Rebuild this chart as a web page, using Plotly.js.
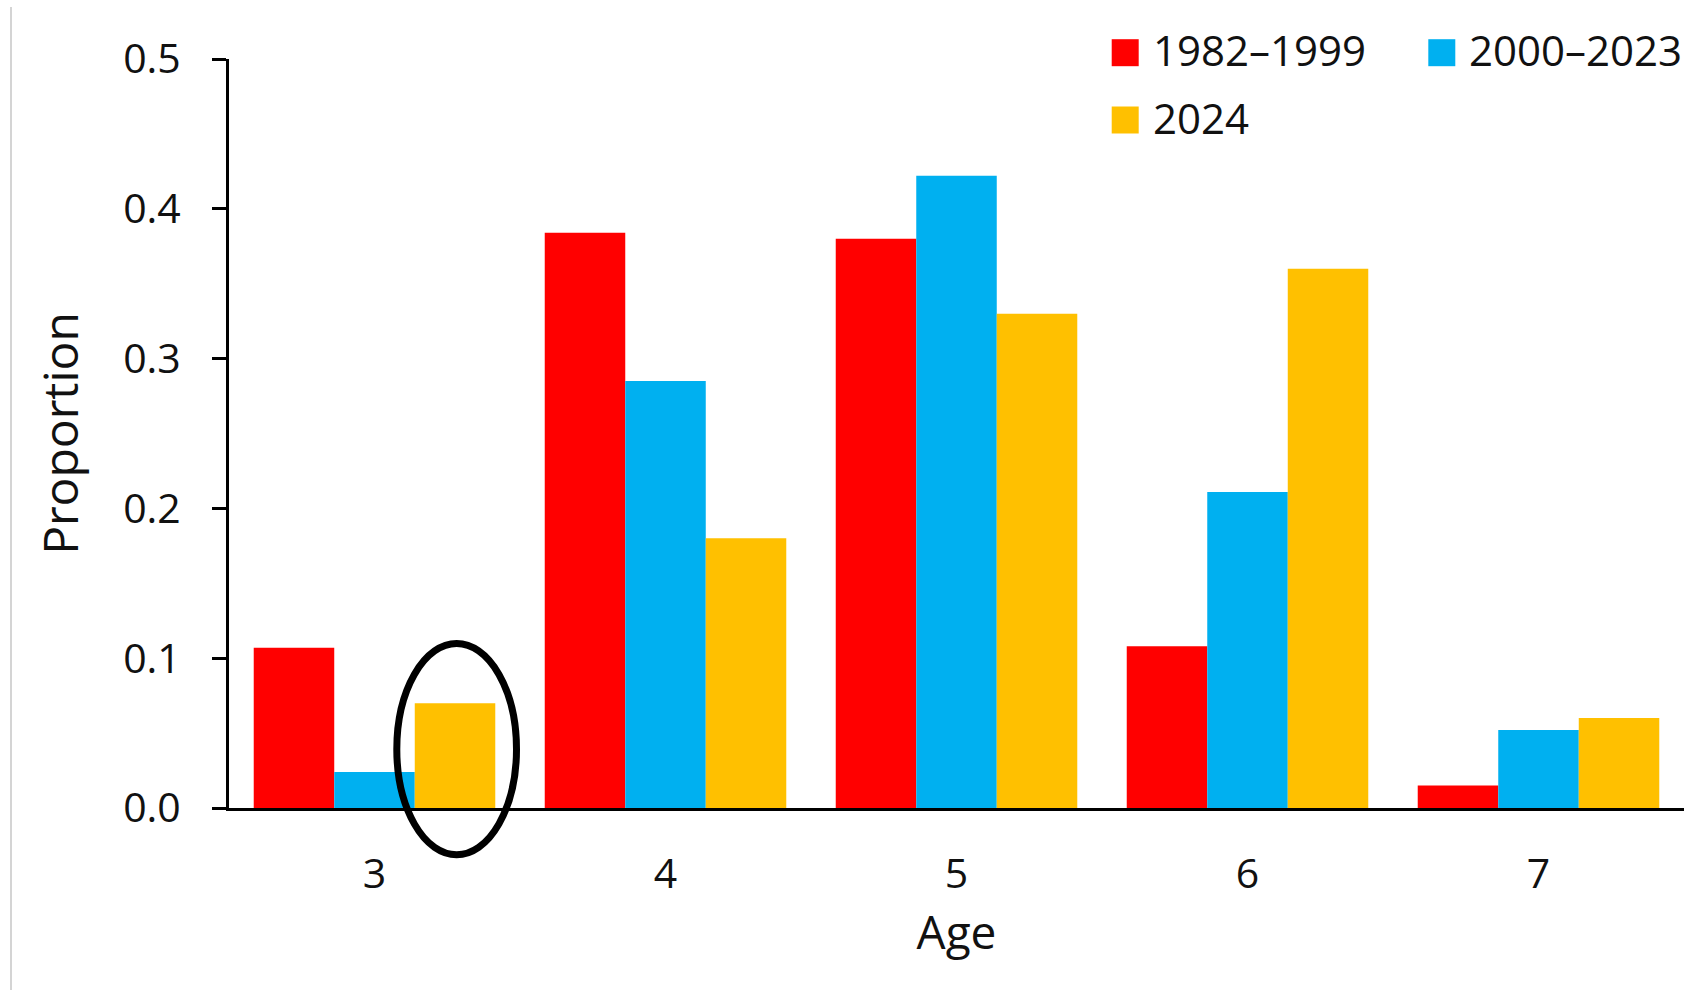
<!DOCTYPE html>
<html>
<head>
<meta charset="utf-8">
<script src="https://cdn.plot.ly/plotly-3.0.1.min.js"></script>
<style>
html,body{margin:0;padding:0;background:#fff;}
#chart{width:1702px;height:990px;}
</style>
</head>
<body>
<div id="chart"></div>
<script>
// ---- data ----
const ages = ["3", "4", "5", "6", "7"];
const seriesNames = ["1982\u20131999", "2000\u20132023", "2024"];
const vals1982_1999 = [0.107, 0.384, 0.380, 0.108, 0.015];
const vals2000_2023 = [0.024, 0.285, 0.422, 0.211, 0.052];
const vals2024 = [0.070, 0.180, 0.330, 0.360, 0.060];
const colors = ["#FF0000", "#00B0F0", "#FFC000"];
const yTickVals = [0, 0.1, 0.2, 0.3, 0.4, 0.5];
const yTickText = ["0.0", "0.1", "0.2", "0.3", "0.4", "0.5"];

const FONT = "'Open Sans', 'Noto Sans', sans-serif";
const TXT = "#111111";

const W = 1702, H = 990;
const M = {l: 229, r: 18, t: 59, b: 182};
const PW = W - M.l - M.r, PH = H - M.t - M.b;
const px = x => (x - M.l) / PW;          // pixel -> paper x
const py = y => (H - M.b - y) / PH;      // pixel -> paper y

const allVals = [vals1982_1999, vals2000_2023, vals2024];
const traces = allVals.map((v, i) => ({
  type: "bar",
  name: seriesNames[i],
  x: ages,
  y: v,
  marker: {color: colors[i], line: {width: 0}},
  hoverinfo: "x+y+name"
}));

// custom legend (large square swatches like the original)
const legCols = [1111.7, 1428.3];
const legRows = [52.7, 120];
const legPos = [[0, 0], [1, 0], [0, 1]];
const shapes = [];
const annotations = [];
seriesNames.forEach((n, i) => {
  const cx = legCols[legPos[i][0]], cy = legRows[legPos[i][1]];
  shapes.push({
    type: "rect", xref: "paper", yref: "paper",
    x0: px(cx), x1: px(cx + 27), y0: py(cy + 13.5), y1: py(cy - 13.5),
    fillcolor: colors[i], line: {width: 0}
  });
  annotations.push({
    xref: "paper", yref: "paper", x: px(cx + 39), y: py(cy - 3),
    xanchor: "left", yanchor: "middle", showarrow: false,
    text: n, font: {family: FONT, size: 42, color: TXT}
  });
});

// highlight ellipse around age-3 / 2024 bar
shapes.push({
  type: "circle", xref: "paper", yref: "paper",
  x0: px(396.8), x1: px(516.5), y0: py(854.8), y1: py(643.5),
  line: {color: "#000000", width: 7}, fillcolor: "rgba(0,0,0,0)"
});
// thin grey frame line at the left edge
shapes.push({
  type: "line", xref: "paper", yref: "paper",
  x0: px(11), x1: px(11), y0: py(7), y1: py(992),
  line: {color: "#d4d4d4", width: 2}
});

const layout = {
  width: W, height: H,
  margin: M,
  paper_bgcolor: "#ffffff",
  plot_bgcolor: "#ffffff",
  barmode: "group",
  bargap: 0.17,
  bargroupgap: 0,
  showlegend: false,
  font: {family: FONT, color: TXT},
  xaxis: {
    type: "category",
    range: [-0.5, 4.5],
    showline: true, linecolor: "#000000", linewidth: 3,
    ticks: "", showgrid: false, zeroline: false,
    tickfont: {family: FONT, size: 41, color: TXT},
    ticklabelstandoff: 28,
    title: {text: "Age", font: {family: FONT, size: 46, color: TXT}, standoff: 6}
  },
  yaxis: {
    range: [0, 0.5],
    tickvals: yTickVals, ticktext: yTickText,
    showline: true, linecolor: "#000000", linewidth: 3,
    ticks: "outside", ticklen: 14, tickwidth: 3, tickcolor: "#000000",
    showgrid: false, zeroline: false,
    tickfont: {family: FONT, size: 41, color: TXT},
    ticklabelstandoff: 23,
    title: {text: "Proportion", font: {family: FONT, size: 48, color: TXT}, standoff: 30}
  },
  shapes: shapes,
  annotations: annotations
};

Plotly.newPlot("chart", traces, layout, {displayModeBar: false, responsive: false});
</script>
</body>
</html>
